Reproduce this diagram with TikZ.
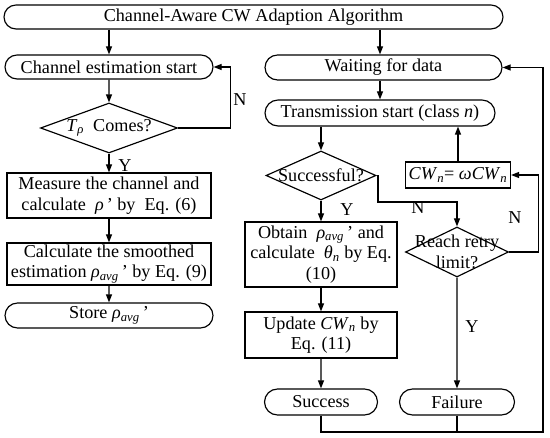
\documentclass[tikz,border=0pt]{standalone}
\usepackage{fontspec}
\setmainfont{Liberation Serif}
\usetikzlibrary{arrows.meta,calc,positioning,shapes.geometric,shapes.misc}
\tikzset{
  terminal/.style={
    rounded rectangle, draw=black, line width=1pt, fill=white,
    minimum height=0.75cm, inner sep=0pt, align=center
  },
  process/.style={
    rectangle, draw=black, line width=1pt, fill=white,
    inner sep=0pt, align=center
  },
  decision/.style={
    diamond, draw=black, line width=1pt, fill=white, inner sep=0pt
  },
  branch/.style={inner sep=0pt},
  flow/.style={-{Triangle[length=2.4mm,width=1.8mm]}, line width=1pt, draw=black},
  plain/.style={line width=1pt, draw=black}
}
\newcommand{\ital}[1]{\textit{#1}}
\newcommand{\sub}[1]{\textsubscript{\textit{#1}}}

\begin{document}
\begin{tikzpicture}[font=\fontsize{15.5}{17.5}\selectfont]
    \useasboundingbox (0,0) rectangle (16.5,-13.14);
    % left column
    \node[terminal,minimum width=14.97cm,minimum height=0.72cm] (top) at (7.605,-0.51) {Channel-Aware CW Adaption Algorithm};
    \node[terminal,minimum width=6.24cm,minimum height=0.72cm] (chest) at (3.27,-2.01) {Channel estimation start};
    \node[decision,minimum width=4.11cm,minimum height=1.5cm] (tcome) at (3.27,-3.84) {};
    \node (tcometxt) at (tcome) {\ital{T}\sub{ρ} \ Comes?};
    \node[process,minimum width=6.12cm,minimum height=1.35cm] (measure) at (3.27,-5.865) {Measure the channel and\\calculate \ \ital{ρ}\,’ by \ Eq. (6)};
    \node[process,minimum width=6.12cm,minimum height=1.26cm] (calc) at (3.27,-7.92) {Calculate the smoothed\\estimation \ital{ρ}\sub{avg}\,’ by Eq. (9)};
    \node[terminal,minimum width=6.24cm] (store) at (3.27,-9.465) {Store \ital{ρ}\sub{avg}\,’};
    % right column
    \node[terminal,minimum width=7.11cm] (wait) at (11.505,-2.025) {Waiting for data};
    \node[terminal,minimum width=6.9cm,minimum height=0.78cm] (trans) at (11.4,-3.39) {Transmission start (class \ital{n})};
    \node[decision,minimum width=3.3cm,minimum height=1.47cm] (succ) at (9.63,-5.265) {};
    \node (succtxt) at (succ) {Successful?};
    \node[process,minimum width=4.56cm,minimum height=1.95cm] (obtain) at (9.63,-7.635) {Obtain \ \ital{ρ}\sub{avg}\,’ and\\calculate \ \ital{θ}\sub{n} by Eq.\\(10)};
    \node[process,minimum width=4.56cm,minimum height=1.38cm] (update) at (9.63,-10.05) {Update \ital{CW}\sub{n} by\\Eq. (11)};
    \node[terminal,minimum width=3.39cm,minimum height=0.78cm] (success) at (9.63,-12.06) {Success};
    \node[decision,minimum width=3.09cm,minimum height=1.5cm] (retry) at (13.71,-7.56) {};
    \node[align=center] (retrytxt) at (retry) {Reach retry\\limit?};
    \node[terminal,minimum width=3.45cm,minimum height=0.78cm] (failure) at (13.71,-12.06) {Failure};
    \node[process,minimum width=3.15cm,minimum height=0.78cm] (cw) at (13.74,-5.25) {\ital{CW}\sub{n}= \ital{ωCW}\sub{n}};
    \coordinate (nturn) at (11.34,-6.06);
    \coordinate (loopbr) at (16.29,-12.96);
    % left flow
    \draw[flow] (top.south -| chest) -- (chest.north);
    \draw[flow] (chest) -- (tcome);
    \draw[flow] (tcome) -- (measure);
    \draw[flow] (tcome.east) -- ++(1.56,0) |- (chest.east);
    \draw[flow] (measure) -- (calc);
    \draw[flow] (calc) -- (store);
    % right flow
    \draw[flow] (top.south -| trans) -- (wait.north -| trans);
    \draw[flow] (wait.south -| trans) -- (trans.north);
    \draw[flow] (trans.south -| succ) -- (succ.north);
    \draw[flow] (succ) -- (obtain);
    \draw[flow] (succ.east) -| (nturn) -| (retry.north);
    \draw[flow] (obtain) -- (update);
    \draw[flow] (update) -- (success);
    \draw[flow] (retry) -- (failure);
    \draw[flow] (retry.east) -- ++(0.87,0) |- (cw.east);
    \draw[flow] (cw.north) -- (cw.north |- trans.south);
    \draw[flow] (success.south) |- (loopbr) |- (wait.east);
    \draw[plain] (failure.south) -- (failure.south |- loopbr);
    % branch labels
    \node[branch] (ntcome) at (7.2,-3.0) {N};
    \node[branch] (ytcome) at (3.75,-4.98) {Y};
    \node[branch] (ysucc) at (10.41,-6.3) {Y};
    \node[branch] (nsucc) at (12.54,-6.24) {N};
    \node[branch] (nretry) at (15.45,-6.54) {N};
    \node[branch] (yretry) at (14.16,-9.81) {Y};
\end{tikzpicture}
\end{document}
